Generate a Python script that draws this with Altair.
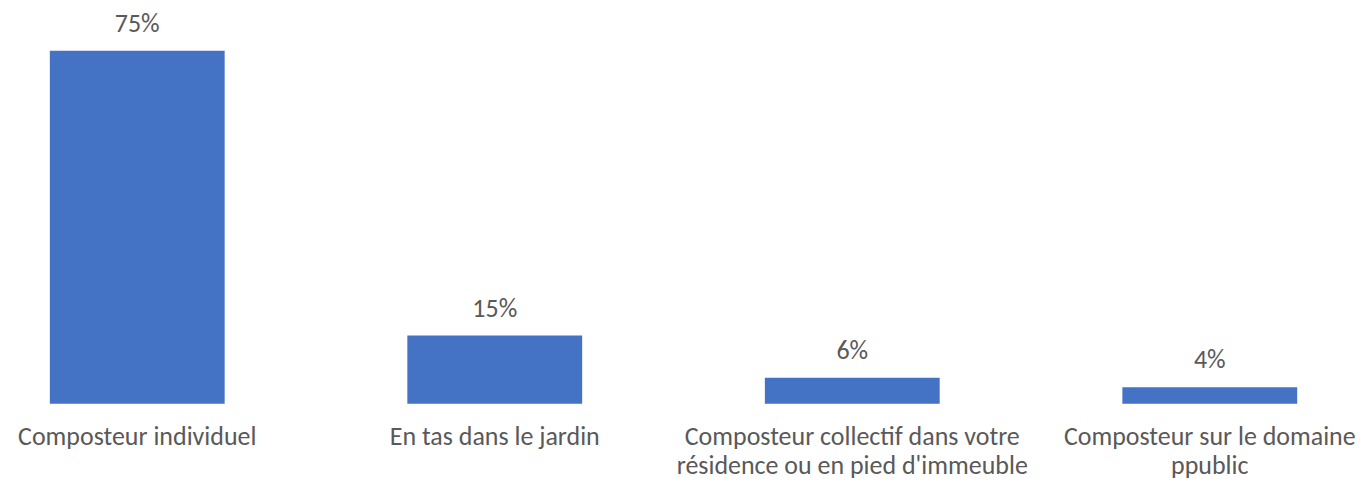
import altair as alt
import pandas as pd

categories = [
    "Composteur individuel",
    "En tas dans le jardin",
    "Composteur collectif dans votre|résidence ou en pied d'immeuble",
    "Composteur sur le domaine|ppublic",
]
values = [75.0, 14.5, 5.5, 3.5]

df = pd.DataFrame({"cat": categories, "val": values})

FONT = "Calibri, Carlito, 'Liberation Sans Narrow', 'DejaVu Sans Condensed', sans-serif"

x = alt.X(
    "cat:N",
    sort=categories,
    title=None,
    scale=alt.Scale(paddingInner=0.511, paddingOuter=0.117),
    axis=alt.Axis(
        labelExpr="split(datum.label, '|')",
        labelAngle=0,
        domain=False,
        ticks=False,
        labelColor="#595959",
        labelFont=FONT,
        labelFontSize=26,
        labelLineHeight=29,
        labelPadding=20,
        labelLimit=0,
    ),
)
y = alt.Y("val:Q", scale=alt.Scale(domain=[0, 84]), axis=None)

bars = alt.Chart(df).mark_bar(color="#4472C4").encode(x=x, y=y)
text = (
    alt.Chart(df)
    .transform_calculate(lbl="format(datum.val, '.0f') + '%'")
    .mark_text(dy=-14, baseline="bottom", color="#595959", font=FONT, fontSize=26)
    .encode(x=x, y=y, text="lbl:N")
)

chart = (
    alt.layer(bars, text)
    .properties(width=1333, height=396, padding=0)
    .configure(background="white", view=alt.ViewConfig(stroke="transparent", strokeWidth=0))
)

chart.save("out.html", embed_options={"renderer": "svg", "actions": False})
